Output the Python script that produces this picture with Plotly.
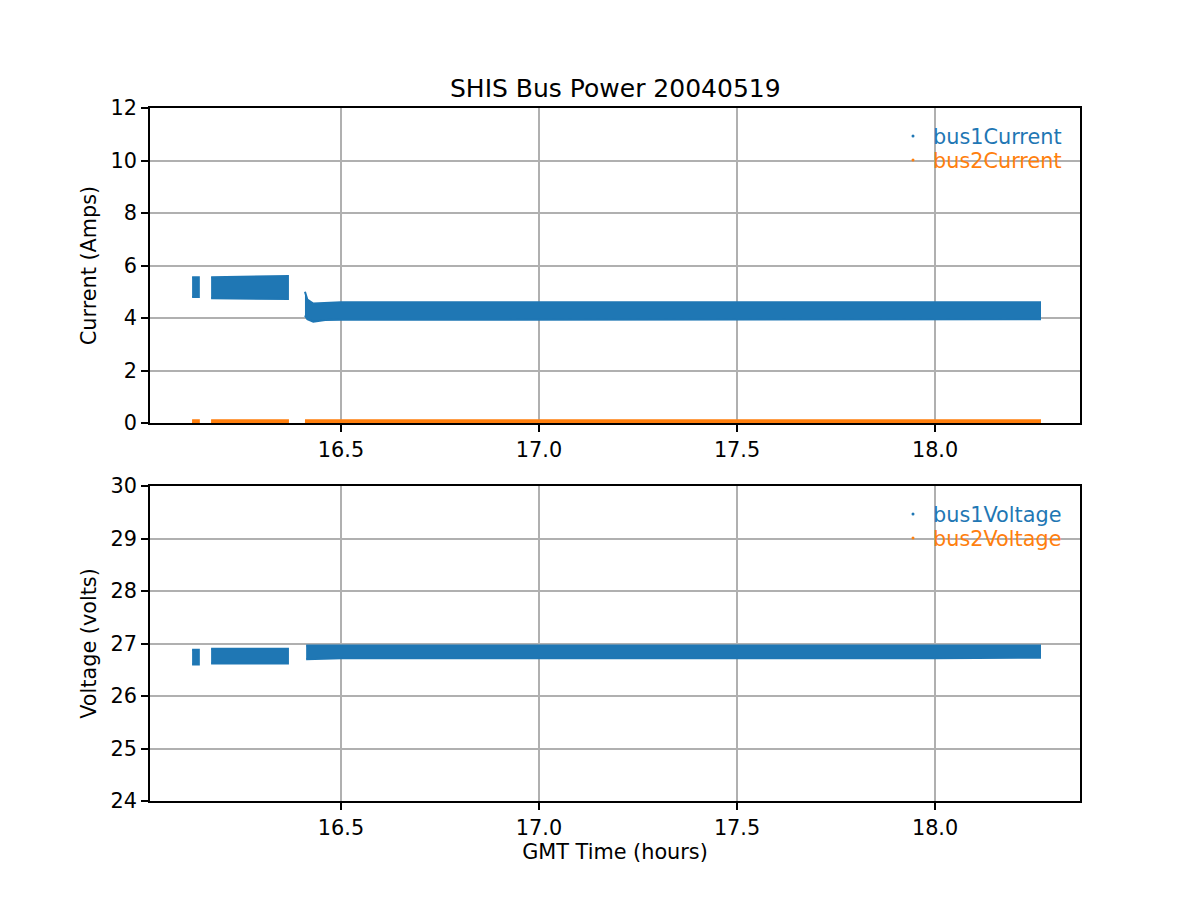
import plotly.graph_objects as go

# ---- data (envelopes of the dense scatter bands) ----
# GMT time breakpoints (hours) for each recorded segment
cur_seg_t = [
    [16.124, 16.141],
    [16.172, 16.366],
    [16.409, 16.415, 16.43, 16.46, 16.5, 17.0, 17.5, 18.0, 18.265],
]
bus1_cur_hi = [
    [5.55, 5.55],
    [5.55, 5.6],
    [5.0, 4.7, 4.55, 4.58, 4.6, 4.6, 4.6, 4.6, 4.6],
]
bus1_cur_lo = [
    [4.8, 4.8],
    [4.75, 4.72],
    [4.1, 3.95, 3.86, 3.92, 3.93, 3.93, 3.93, 3.95, 3.95],
]
bus2_cur_hi = [
    [0.1, 0.1],
    [0.1, 0.1],
    [0.1, 0.1, 0.1, 0.1, 0.1, 0.12, 0.12, 0.1, 0.1],
]
bus2_cur_lo = [
    [0.0, 0.0],
    [0.0, 0.0],
    [0.0, 0.0, 0.0, 0.0, 0.0, 0.0, 0.0, 0.0, 0.0],
]

volt_seg_t = [
    [16.124, 16.141],
    [16.172, 16.366],
    [16.412, 16.5, 17.0, 17.5, 18.0, 18.265],
]
bus1_volt_hi = [
    [26.88, 26.88],
    [26.9, 26.9],
    [26.96, 26.96, 26.97, 26.96, 26.96, 26.96],
]
bus1_volt_lo = [
    [26.6, 26.6],
    [26.62, 26.62],
    [26.7, 26.72, 26.72, 26.72, 26.72, 26.73],
]

title_text = "SHIS Bus Power 20040519"
x_ticks = [16.5, 17.0, 17.5, 18.0]
x_tick_labels = ["16.5", "17.0", "17.5", "18.0"]
cur_ticks = [0, 2, 4, 6, 8, 10, 12]
volt_ticks = [24, 25, 26, 27, 28, 29, 30]

BLUE = "#1f77b4"
ORANGE = "#ff7f0e"
FONT = "DejaVu Sans"
FS = 20.8

# figure size chosen so the page (with 8px body margin) fits the 1200x900 window
W, H = 1184, 884
OFF = 8


def px_x(px):
    return (px - OFF) / W


def px_y(py):
    return 1 - (py - OFF) / H


fig = go.Figure()


def add_band(ts, his, los, color, xa, ya):
    for t, hi, lo in zip(ts, his, los):
        fig.add_trace(go.Scatter(
            x=list(t) + list(t)[::-1],
            y=list(hi) + list(lo)[::-1],
            fill="toself", fillcolor=color, mode="lines",
            line=dict(color=color, width=2),
            showlegend=False, hoverinfo="skip",
            xaxis=xa, yaxis=ya,
        ))


add_band(cur_seg_t, bus1_cur_hi, bus1_cur_lo, BLUE, "x", "y")
add_band(cur_seg_t, bus2_cur_hi, bus2_cur_lo, ORANGE, "x", "y")
add_band(volt_seg_t, bus1_volt_hi, bus1_volt_lo, BLUE, "x2", "y2")


def legend_entry(name, color, xa, ya, leg):
    fig.add_trace(go.Scatter(
        x=[None], y=[None], mode="markers",
        marker=dict(color=color, size=3),
        name=f"<span style='color:{color}'>{name}</span>",
        xaxis=xa, yaxis=ya, legend=leg,
    ))


legend_entry("bus1Current", BLUE, "x", "y", "legend")
legend_entry("bus2Current", ORANGE, "x", "y", "legend2")
legend_entry("bus1Voltage", BLUE, "x2", "y2", "legend3")
legend_entry("bus2Voltage", ORANGE, "x2", "y2", "legend4")

xmin, xmax = 16.0177, 18.366
axis_common = dict(
    showline=True, linecolor="black", linewidth=1.6, mirror=True,
    ticks="outside", ticklen=7, tickcolor="black", tickwidth=1.6,
    showgrid=True, gridcolor="#b0b0b0", gridwidth=1.6,
    zeroline=False, automargin=False,
    tickfont=dict(family=FONT, size=FS, color="black"),
)

x_dom = [px_x(150), px_x(1080)]


def legend_box(top_px):
    return dict(x=px_x(1067), y=px_y(top_px), xanchor="right", yanchor="top",
                bgcolor="rgba(255,255,255,0)", font=dict(family=FONT, size=FS),
                tracegroupgap=0, itemwidth=30)


fig.update_layout(
    width=W, height=H,
    margin=dict(l=0, r=0, t=0, b=0),
    paper_bgcolor="white", plot_bgcolor="white",
    font=dict(family=FONT, size=FS, color="black"),
    xaxis=dict(domain=x_dom, anchor="y", range=[xmin, xmax],
               tickvals=x_ticks, ticktext=x_tick_labels, **axis_common),
    yaxis=dict(domain=[px_y(423), px_y(108)], anchor="x", range=[0, 12],
               tickvals=cur_ticks,
               title=dict(text="Current (Amps)", standoff=8,
                          font=dict(family=FONT, size=FS)),
               **axis_common),
    xaxis2=dict(domain=x_dom, anchor="y2", range=[xmin, xmax],
                tickvals=x_ticks, ticktext=x_tick_labels,
                title=dict(text="GMT Time (hours)", standoff=6,
                           font=dict(family=FONT, size=FS)),
                **axis_common),
    yaxis2=dict(domain=[px_y(801), px_y(486)], anchor="x2", range=[24, 30],
                tickvals=volt_ticks,
                title=dict(text="Voltage (volts)", standoff=8,
                           font=dict(family=FONT, size=FS)),
                **axis_common),
    legend=legend_box(116),
    legend2=legend_box(140),
    legend3=legend_box(494),
    legend4=legend_box(518),
    annotations=[dict(text=title_text, xref="paper", yref="paper",
                      x=px_x(615), y=px_y(88), xanchor="center", yanchor="middle",
                      showarrow=False, font=dict(family=FONT, size=25))],
)

fig.write_html("out.html")
